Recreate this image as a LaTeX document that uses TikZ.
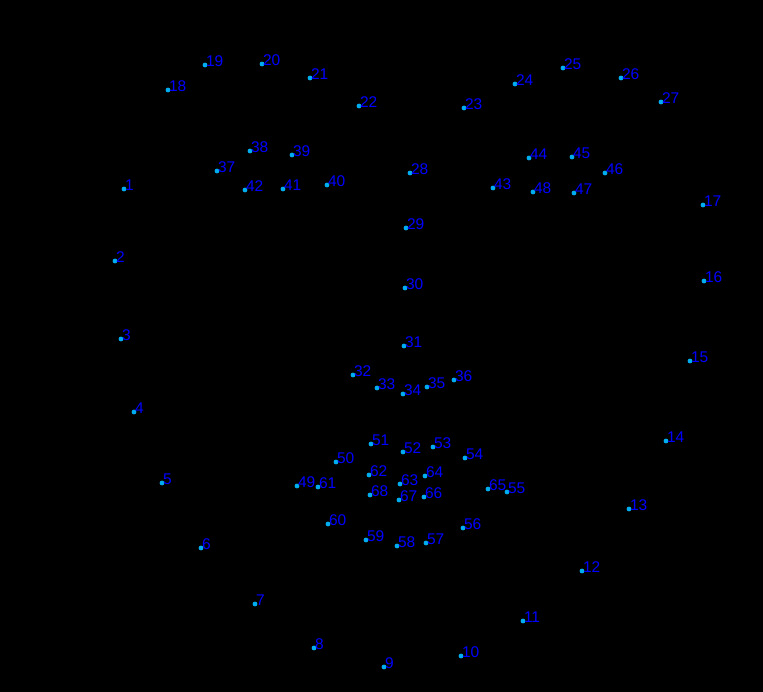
\documentclass[tikz,border=0pt]{standalone}
\usepackage{fontspec}
\setmainfont{Liberation Sans}
\usetikzlibrary{positioning}

\begin{document}
\begin{tikzpicture}[x = 1pt, y = -1pt, font = \fontsize{15.5}{15.5}\selectfont,
  landmark/.style = {circle, fill = cyan, inner sep = 0pt, minimum size = 4.8pt},
  number/.style = {text = blue, inner sep = 0pt}]
  \fill[black] (0, 0) rectangle (763, 692);
  \useasboundingbox (0, 0) rectangle (763, 692);

  \foreach \i/\x/\y in {1/124/189, 2/115/261, 3/121/339, 4/134/412, 5/162/483, 6/201/548,
    7/255/604, 8/314/648, 9/384/667, 10/461/656, 11/523/621, 12/582/571, 13/629/509,
    14/666/441, 15/690/361, 16/704/281, 17/703/205, 18/168/90, 19/205/65, 20/262/64,
    21/310/78, 22/359/106, 23/464/108, 24/515/84, 25/563/68, 26/621/78, 27/661/102,
    28/410/173, 29/406/228, 30/405/288, 31/404/346, 32/353/375, 33/377/388, 34/403/394,
    35/427/387, 36/454/380, 37/217/171, 38/250/151, 39/292/155, 40/327/185, 41/283/189,
    42/245/190, 43/493/188, 44/529/158, 45/572/157, 46/605/173, 47/574/193, 48/533/192,
    49/297/486, 50/336/462, 51/371/444, 52/403/452, 53/433/447, 54/465/458, 55/507/492,
    56/463/528, 57/426/543, 58/397/546, 59/366/540, 60/328/524, 61/318/487, 62/369/475,
    63/400/484, 64/425/476, 65/488/489, 66/424/497, 67/399/500, 68/370/495}
  {
    \node (p\i) [landmark] at (\x, \y) {};
    \node (n\i) [number, right = 0.8pt of p\i.center, anchor = base west, yshift = -1.5pt] {\i};
  }
\end{tikzpicture}
\end{document}
